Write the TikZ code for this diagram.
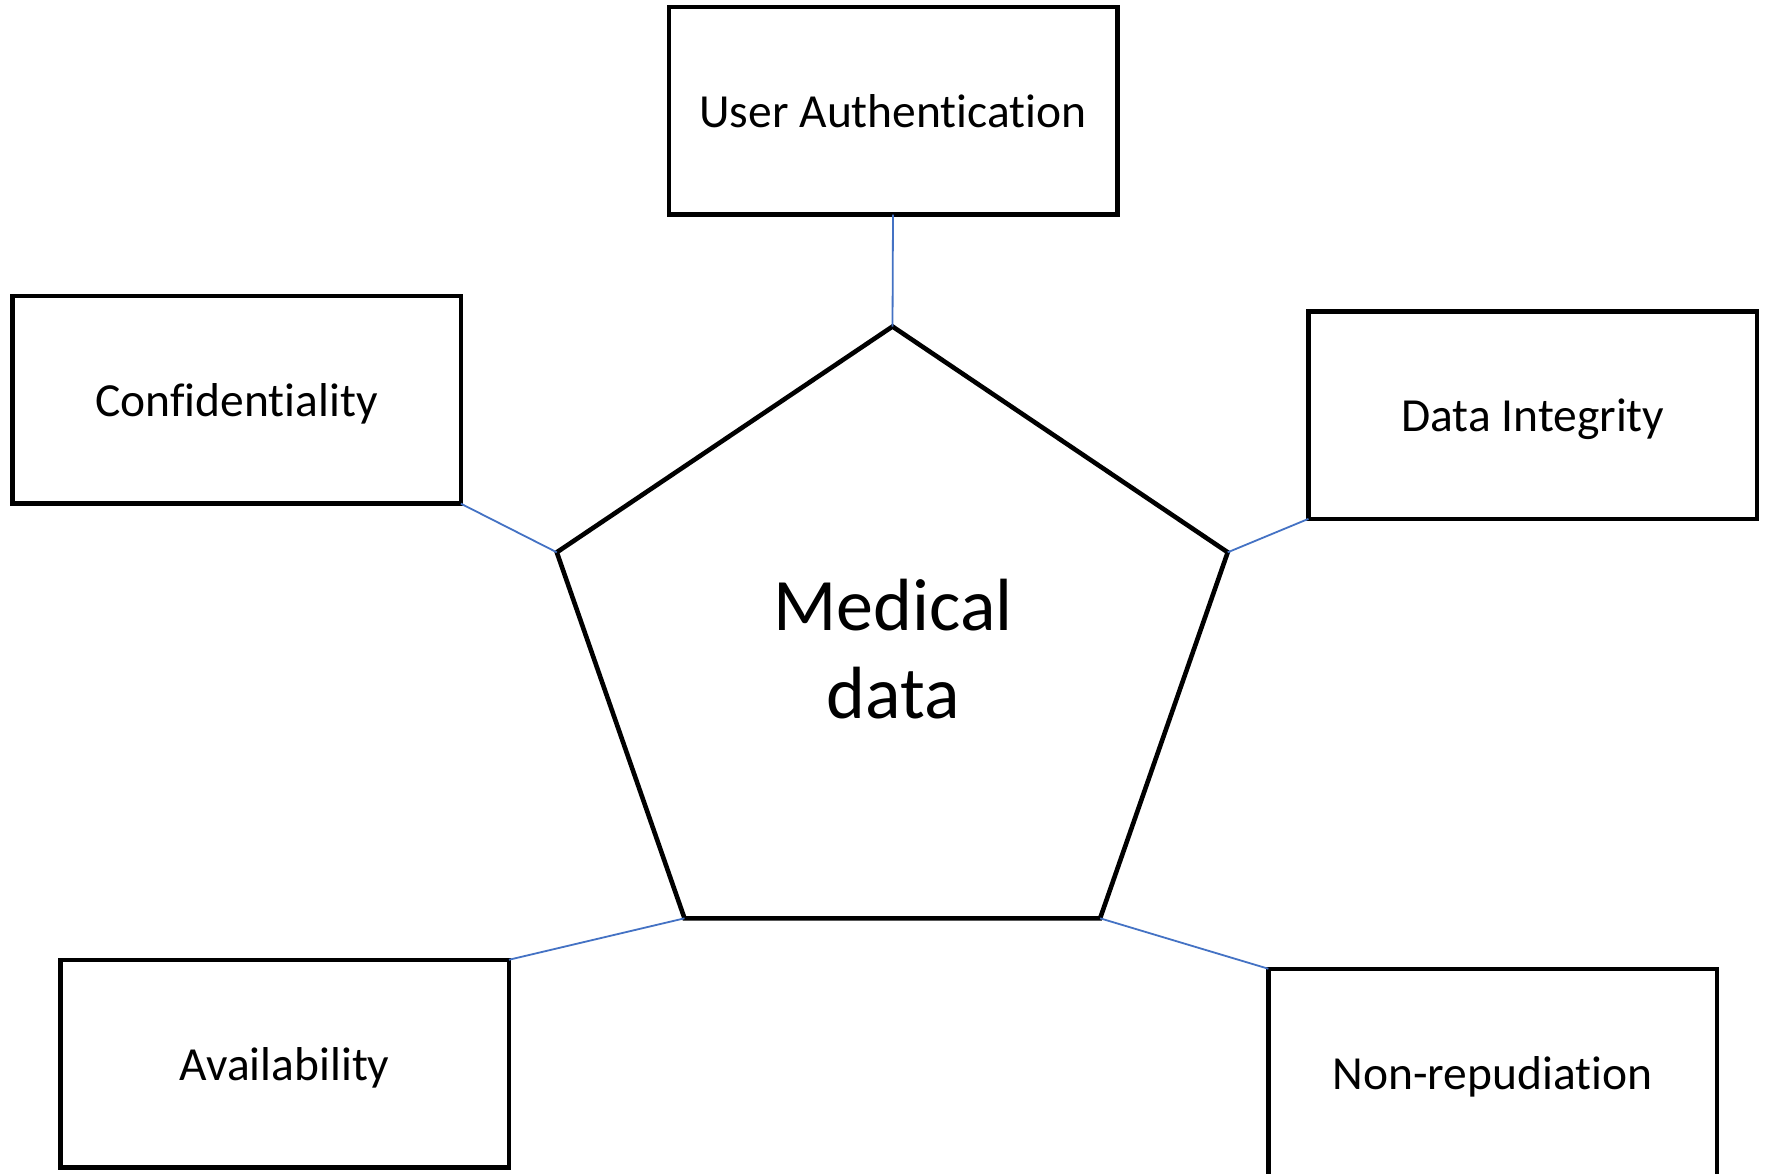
\documentclass[tikz,border=0pt]{standalone}
\usepackage{fontspec}
\setmainfont{Carlito}[Ligatures=NoCommon]
\definecolor{linkblue}{HTML}{4472C4}
\begin{document}
\begin{tikzpicture}[x=1pt,y=-1pt,
  prop/.style={draw=black, line width=4.5pt, rectangle, outer sep=0pt, inner sep=0pt,
    minimum width=448.5pt, minimum height=207.5pt,
    font=\fontsize{47.5}{57}\selectfont, text height=33pt, text depth=0pt},
  link/.style={draw=linkblue, line width=1.8pt},
  core/.style={draw=black, line width=4.6pt, line join=miter}]
  \fill[white] (0,0) rectangle (1771,1173);
  \useasboundingbox (0,0) rectangle (1771,1173);

  % corners of the central pentagon
  \coordinate (pT)  at (892.5,326.5);
  \coordinate (pL)  at (556.8,552.3);
  \coordinate (pR)  at (1227.7,552.3);
  \coordinate (pBL) at (684.5,918.3);
  \coordinate (pBR) at (1100.1,918.3);
  \draw[core] (pT) -- (pR) -- (pBR) -- (pBL) -- (pL) -- cycle;
  \node[align=center, inner sep=0pt, font=\fontsize{74}{88.4}\selectfont] (core) at (893,649) {Medical\\data};

  % the five security properties
  \node[prop] (ua)    at (893,110.8)    {User Authentication};
  \node[prop] (conf)  at (236.6,399.9)  {Confidentiality};
  \node[prop] (integ) at (1532.7,415.1) {Data Integrity};
  \node[prop] (avail) at (284.7,1063.5) {Availability};
  \node[prop] (nrep)  at (1492.6,1072.5) {Non-repudiation};

  % links from each property to the pentagon
  \draw[link] (ua.south) -- (pT);
  \draw[link] (conf.south east) -- (pL);
  \draw[link] (integ.south west) -- (pR);
  \draw[link] (avail.north east) -- (pBL);
  \draw[link] (nrep.north west) -- (pBR);
\end{tikzpicture}
\end{document}
